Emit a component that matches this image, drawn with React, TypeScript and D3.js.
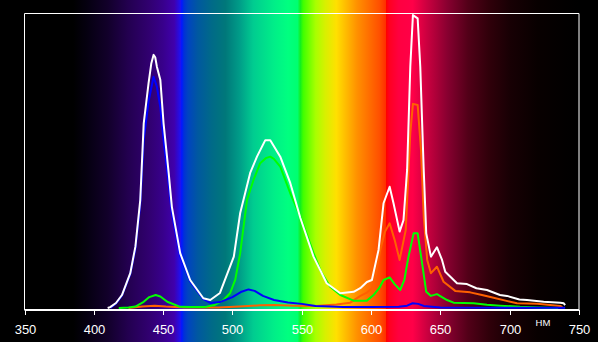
import React from "react";
import * as d3 from "d3";

const W = 598;
const H = 342;

const xTicks = [350, 400, 450, 500, 550, 600, 650, 700, 750];
const unitLabel = "НМ";

// [wavelength nm, relative intensity 0..100]
const whiteSeries: [number, number][] = [
  [410, 0], [411.8, 0.3], [416, 1.7], [420.3, 4.4], [426.3, 11.8], [430, 20.8], [433.5, 36.6],
  [436, 62.6], [439.5, 76.2], [441.5, 83], [443.1, 85.8], [444.3, 85], [445.5, 81.8], [448, 77.3],
  [450.3, 62.7], [454, 45.8], [456.3, 34.3], [462.3, 18.6], [469.5, 9.5], [479, 3.3], [484, 2.7],
  [491, 5.1], [501, 17.4], [505.6, 32.2], [512.8, 45.8], [517.7, 51.3], [523.7, 56.9],
  [527.3, 56.9], [534.5, 51.3], [541.7, 42.4], [549, 30.5], [558.5, 17.4], [568, 8.4],
  [577.8, 5.0], [587.4, 5.5], [592.2, 6.7], [597, 8.8], [600.6, 9.5], [605.4, 19.7],
  [609, 35.5], [613.4, 41.1], [616.2, 35.5], [620.6, 25.9], [623.4, 29.8], [626, 46.8],
  [628.3, 81.8], [630.2, 99.3], [633.6, 98.2], [635.5, 81.8], [637.9, 47.9], [639.8, 25.3],
  [643.2, 17.4], [647.5, 20.6], [651.2, 16.3], [653.5, 12.3], [662, 8.4], [669.2, 8.1],
  [676, 6.7], [683.6, 6.1], [693, 4.4], [698, 4.1], [707, 2.9], [712.5, 2.7], [724.5, 2.1],
  [736.5, 1.8], [739, 1.6], [740, 1.0],
];

const blueSeries: [number, number][] = [
  [412, 0], [416, 1.5], [420.3, 4.2], [426.3, 11.5], [430, 20], [433.5, 35], [436, 57],
  [439.5, 70], [443.1, 78.4], [445.5, 75], [448, 68], [450.3, 57], [454, 42], [456.3, 32],
  [462.3, 17.6], [469.5, 9], [479, 3], [484, 1.7], [491, 2.0], [500, 3.7], [506, 5.4],
  [511.6, 6.3], [516, 5.8], [522, 4.1], [530, 2.7], [540, 1.9], [550, 1.4], [560, 0.7],
  [580, 0.3], [600, 0.3], [620, 0.4], [626, 0.8], [630, 1.6], [634, 1.4], [638, 0.7],
  [650, 0.2], [700, 0.1], [740, 0.1],
];

const greenSeries: [number, number][] = [
  [418, 0], [425, 0.2], [430, 0.5], [436, 2.1], [440, 3.7], [444.6, 4.4], [448, 3.9],
  [453, 2.1], [458, 1.2], [462.3, 0.4], [470, 0.3], [480, 0.3], [487, 1.0], [493.6, 2.7],
  [498.4, 5.1], [502, 9.5], [505.6, 18.6], [510.5, 36.6], [515.2, 43.4], [520, 49.1],
  [524, 50.8], [527.3, 51.3], [530, 50.5], [534.5, 47.9], [541.7, 38.9], [549, 31.0],
  [558.5, 18.6], [564, 12.2], [570.5, 7.2], [577.8, 4.4], [587.4, 2.5], [592, 2.5],
  [597, 2.5], [601.8, 4.4], [606, 6.8], [609, 9.5], [613.4, 10.4], [617, 8.1], [621, 6.1],
  [624, 9.5], [627, 17.4], [630.7, 25.3], [633.6, 25.3], [636.8, 15.2], [639.8, 5.5],
  [643.2, 4.1], [647.5, 4.7], [654.8, 2.7], [659.5, 1.8], [674, 1.6], [683.6, 1.1],
  [693, 0.8], [707.5, 0.4], [720, 0.2], [735, 0],
];

const orangeSeries: [number, number][] = [
  [425, 0], [435, 0.5], [444, 0.8], [452, 0.5], [465, 0.2], [490, 0.2], [505, 0.5],
  [520, 0.9], [530, 1.0], [545, 0.8], [560, 0.7], [575, 1.2], [585, 1.8], [592, 4.0],
  [597, 5.2], [600.6, 6.7], [603.5, 11.2], [606.6, 19.7], [610, 25.8], [613.4, 28.7],
  [617, 23.1], [620.6, 16.3], [625, 26.4], [628.3, 59.3], [630.2, 69.2], [633.6, 68.8],
  [636, 53.6], [638, 31.0], [640.5, 16.3], [643.2, 11.8], [647.5, 14.0], [652.3, 8.9],
  [660.7, 5.8], [671.5, 5.3], [680, 4.4], [688.4, 3.5], [697, 2.5], [705.3, 1.6],
  [720, 1.4], [736.5, 0.7], [738, 0.3],
];

// spectrum background stops [wavelength, colour]
const spectrumStops: [number, string][] = [
  [350, "#000000"], [385, "#000000"], [395, "#050010"], [410, "#12002a"], [425, "#230050"],
  [440, "#310070"], [450, "#38008c"], [458, "#4000ac"], [462.5, "#2010f0"], [463.5, "#0018ff"],
  [465, "#0030d8"], [468, "#0044c0"], [475, "#0058a0"], [485, "#006a88"], [495, "#00787a"],
  [505, "#009c88"], [515, "#00cc90"], [530, "#00ee88"], [540, "#00ff80"], [547, "#00ff70"],
  [549, "#10f020"], [551, "#40ff00"], [560, "#a8ff00"], [567, "#d8f000"], [575, "#ffe000"],
  [590, "#ff9000"], [606, "#ff5000"], [610.5, "#ff3000"], [611, "#ff0000"], [613, "#ff0020"],
  [620, "#ff0040"], [630, "#ff0048"], [640, "#cc0040"], [655, "#880030"], [670, "#520018"],
  [685, "#30000a"], [700, "#180004"], [720, "#080000"], [740, "#020000"], [750, "#000000"],
];

export default function App() {
  const x = d3.scaleLinear().domain([350, 750]).range([24.5, 579]);
  const y = d3.scaleLinear().domain([0, 100]).range([308, 13]);
  const left = x(350);
  const right = x(750);
  const top = 13.5;
  const bottom = 310;

  const line = d3
    .line<[number, number]>()
    .x((d) => x(d[0]))
    .y((d) => y(d[1]))
    .curve(d3.curveLinear);

  const series: { data: [number, number][]; color: string }[] = [
    { data: orangeSeries, color: "#ff6000" },
    { data: greenSeries, color: "#00ff00" },
    { data: blueSeries, color: "#0000ff" },
    { data: whiteSeries, color: "#ffffff" },
  ];

  return (
    <svg
      width={W}
      height={H}
      style={{ position: "absolute", left: 0, top: 0, background: "#000" }}
      fontFamily="'Liberation Sans', Arial, sans-serif"
    >
      <defs>
        <linearGradient id="spec" gradientUnits="userSpaceOnUse" x1={left} x2={right} y1={0} y2={0}>
          {spectrumStops.map(([w, c], i) => (
            <stop key={i} offset={(w - 350) / 400} stopColor={c} />
          ))}
        </linearGradient>
      </defs>
      <rect x={0} y={0} width={W} height={H} fill="#000" />
      <rect x={left} y={0} width={right - left} height={H} fill="url(#spec)" />
      {/* frame */}
      <line x1={left} x2={left} y1={top} y2={bottom} stroke="#fff" strokeWidth={1} />
      <line x1={left} x2={right} y1={top} y2={top} stroke="#fff" strokeWidth={1} />
      <line x1={right} x2={right} y1={top} y2={bottom} stroke="#fff" strokeWidth={1} />
      {series.map((s, i) => (
        <path
          key={i}
          d={line(s.data) || ""}
          fill="none"
          stroke={s.color}
          strokeWidth={2}
          strokeLinejoin="round"
        />
      ))}
      <line x1={left} x2={right} y1={bottom} y2={bottom} stroke="#fff" strokeWidth={2} />
      {xTicks.map((t) => (
        <g key={t} transform={`translate(${Math.round(x(t)) + 0.5},0)`}>
          <line y1={bottom} y2={bottom + 5} stroke="#fff" strokeWidth={1} />
          <text y={333.5} textAnchor="middle" fill="#fff" fontSize={13}>
            {t}
          </text>
        </g>
      ))}
      <text x={543} y={326} textAnchor="middle" fill="#fff" fontSize={9.5}>
        {unitLabel}
      </text>
    </svg>
  );
}
